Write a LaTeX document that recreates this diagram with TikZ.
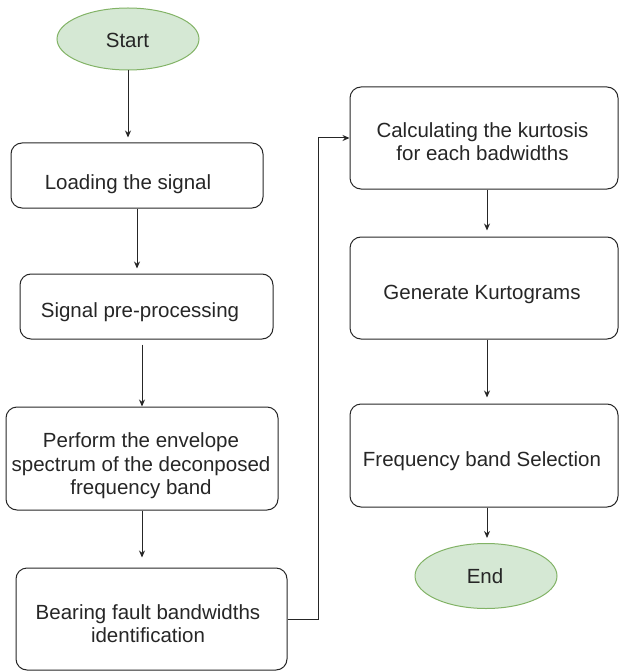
\documentclass[tikz,border=0pt]{standalone}
\usepackage{fontspec}
\setmainfont{Liberation Sans}
\usetikzlibrary{arrows.meta,shapes.geometric,calc}
\definecolor{termfill}{HTML}{D5E8D4}
\definecolor{termdraw}{HTML}{82B366}
\definecolor{ink}{HTML}{262626}
\begin{document}
\begin{tikzpicture}[x=1pt,y=-1pt,
  font=\fontsize{20.5}{23.5}\selectfont,
  box/.style={draw=ink, line width=1pt, rounded corners=11pt, rectangle, inner sep=0pt},
  term/.style={draw=termdraw, fill=termfill, line width=1pt, ellipse, inner sep=0pt},
  lbl/.style={text=ink, inner sep=0pt, align=center},
  arr/.style={draw=ink, line width=1pt, -{Stealth[length=7pt,width=6pt]}}]
\useasboundingbox (0,0) rectangle (619,671);
% terminals
\node[term, minimum width=142pt, minimum height=62pt] (start) at (128,39) {};
\node[term, minimum width=142pt, minimum height=65pt] (end) at (486,576) {};
% boxes
\node[box, minimum width=252pt, minimum height=65pt] (b1) at (137,175.5) {};
\node[box, minimum width=253pt, minimum height=65pt] (b2) at (146.5,306.5) {};
\node[box, minimum width=272pt, minimum height=103pt] (b3) at (142,458.5) {};
\node[box, minimum width=271pt, minimum height=102pt] (b4) at (151.5,619) {};
\node[box, minimum width=268pt, minimum height=102pt] (b5) at (484,138) {};
\node[box, minimum width=268pt, minimum height=102pt] (b6) at (484,288) {};
\node[box, minimum width=268pt, minimum height=103pt] (b7) at (484,455.5) {};
% texts
\node[lbl] (tstart) at (127.5,40.5) {Start};
\node[lbl] (tend) at (485,576) {End};
\node[lbl] (t1) at (128,183.7) {Loading the signal};
\node[lbl] (t2) at (140,312) {Signal pre-processing};
\node[lbl] (t3) at (141,466) {Perform the envelope\\spectrum of the deconposed\\frequency band};
\node[lbl] (t4) at (148,623.5) {Bearing fault bandwidths\\identification};
\node[lbl] (t5) at (482.5,141.6) {Calculating the kurtosis\\for each badwidths};
\node[lbl] (t6) at (482,294) {Generate Kurtograms};
\node[lbl] (t7) at (482,461.4) {Frequency band Selection};
% connectors
\draw[arr, shorten >=5pt] (start.south) -- (start.south |- b1.north);
\draw[arr, shorten >=5pt] (b1.south) -- (b1.south |- b2.north);
\draw[arr, shorten <=5pt] (b3.north |- b2.south) -- (b3.north);
\draw[arr, shorten >=10pt] (b3.south) -- (b3.south |- b4.north);
\coordinate (bend) at ($(b4.east)+(31,0)$);
\draw[arr] (b4.east) -- (bend) |- (b5.west);
\draw[arr, shorten >=6pt] ([xshift=3pt]b5.south) -- ([xshift=3pt]b5.south |- b6.north);
\draw[arr, shorten >=6pt] ([xshift=3pt]b6.south) -- ([xshift=3pt]b6.south |- b7.north);
\draw[arr, shorten >=5pt] ([xshift=3pt]b7.south) -- ([xshift=3pt]b7.south |- end.north);
\end{tikzpicture}
\end{document}
